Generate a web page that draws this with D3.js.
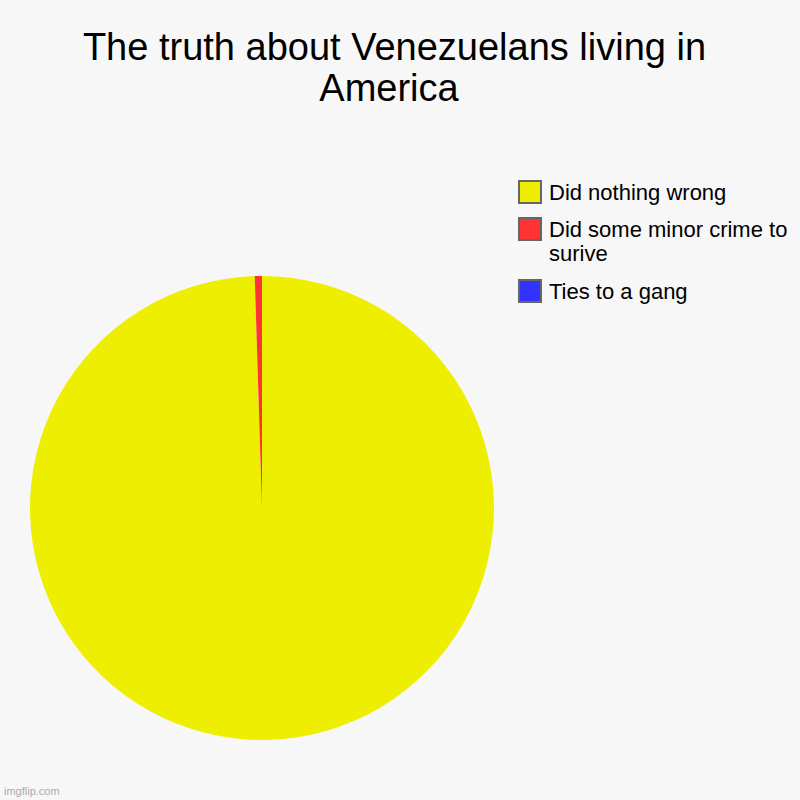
<!DOCTYPE html>
<html><head><meta charset="utf-8">
<script src="https://cdn.jsdelivr.net/npm/d3@7"></script>
<style>body{margin:0;background:#f7f7f7}svg{display:block}</style>
</head><body>
<script>
const titleLines = ["The truth about Venezuelans living in", "America"];
const categories = ["Did nothing wrong", "Did some minor crime to surive", "Ties to a gang"];
const legendLines = [["Did nothing wrong"], ["Did some minor crime to", "surive"], ["Ties to a gang"]];
const values = [199, 1, 0];
const colors = ["#eeee00", "#ff3333", "#3333ff"];

const W = 800, H = 800;
const svg = d3.select("body").append("svg").attr("width", W).attr("height", H);
svg.append("rect").attr("width", W).attr("height", H).attr("fill", "#f7f7f7");

const titleX = [394.5, 389];
svg.append("g").selectAll("text").data(titleLines).join("text")
  .attr("x", (d, i) => titleX[i]).attr("y", (d, i) => 60 + i * 41)
  .attr("text-anchor", "middle")
  .attr("font-family", "Arial, 'Liberation Sans', sans-serif")
  .attr("font-size", 38).attr("fill", "#000").text(d => d);

const cx = 262, cy = 508, r = 232;
const pie = d3.pie().sort(null).value(d => d)(values);
const arc = d3.arc().innerRadius(0).outerRadius(r);
svg.append("g").attr("transform", `translate(${cx},${cy})`)
  .selectAll("path").data(pie).join("path")
  .attr("d", arc).attr("fill", (d, i) => colors[i]);

const leg = svg.append("g");
const boxY = [181, 218, 280];
const baseY = [200, 237, 299];
legendLines.forEach((lines, i) => {
  leg.append("rect").attr("x", 519).attr("y", boxY[i]).attr("width", 22).attr("height", 22)
    .attr("fill", colors[i]).attr("stroke", "#666").attr("stroke-width", 2);
  lines.forEach((t, j) => {
    leg.append("text").attr("x", 549).attr("y", baseY[i] + j * 24)
      .attr("font-family", "Arial, 'Liberation Sans', sans-serif")
      .attr("font-size", 22).attr("fill", "#000").text(t);
  });
});

svg.append("text").attr("x", 4).attr("y", 795)
  .attr("font-family", "Arial, 'Liberation Sans', sans-serif")
  .attr("font-size", 11).attr("fill", "#aaa").text("imgflip.com");
</script>
</body></html>
